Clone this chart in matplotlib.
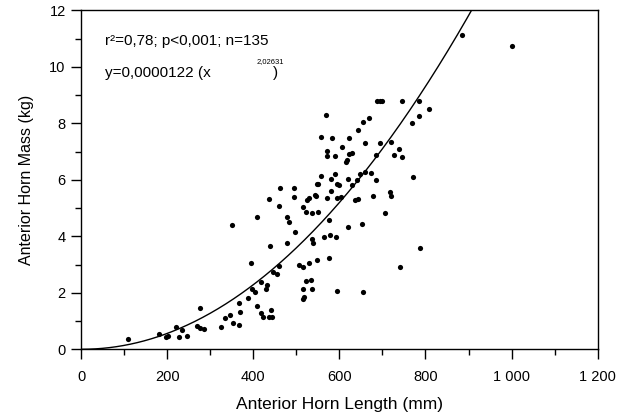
import numpy as np
import matplotlib
matplotlib.use("Agg")
import matplotlib.pyplot as plt
from matplotlib.ticker import MultipleLocator, FixedLocator

plt.rcParams['font.family'] = ['Liberation Sans', 'DejaVu Sans']

horn_length = [108, 180, 197, 201, 220, 228, 235, 247, 269, 276, 286, 276, 324, 334, 346, 354, 368,
               351, 366, 369, 389, 395, 398, 404, 409, 409, 417, 422, 418, 429, 433, 437, 443, 441,
               439, 445, 456, 461, 461, 479, 482, 479, 497, 507, 515, 515, 518, 515, 523, 534, 537,
               530, 547, 536, 539, 516, 523, 536, 551, 577, 564, 578, 592, 619, 652, 707, 576, 595,
               656, 741, 787, 886, 1002, 688, 694, 700, 746, 786, 809, 786, 769, 569, 656, 669, 643,
               557, 584, 622, 660, 695, 719, 572, 607, 571, 591, 622, 630, 615, 617, 685, 728, 738,
               745, 557, 551, 591, 581, 594, 599, 581, 530, 545, 571, 595, 603, 621, 629, 640, 648,
               660, 674, 684, 636, 644, 679, 718, 720, 772, 437, 462, 495, 495, 524, 543, 547]
horn_mass = [0.35, 0.55, 0.42, 0.47, 0.79, 0.45, 0.68, 0.48, 0.81, 0.74, 0.71, 1.48, 0.78, 1.10, 1.21,
             0.92, 0.86, 4.39, 1.63, 1.31, 1.82, 3.04, 2.15, 2.04, 4.69, 1.53, 1.27, 1.15, 2.39, 2.12,
             2.27, 1.13, 1.15, 1.39, 3.67, 2.74, 2.66, 2.95, 5.07, 4.69, 4.52, 3.75, 4.16, 2.98, 2.92,
             2.12, 1.84, 1.78, 2.41, 2.47, 2.13, 3.04, 3.16, 3.89, 3.77, 5.04, 4.86, 4.83, 4.86, 4.59,
             3.98, 4.04, 3.96, 4.33, 4.43, 4.81, 3.24, 2.06, 2.02, 2.92, 3.59, 11.14, 10.75, 8.78,
             8.78, 8.78, 8.78, 8.78, 8.52, 8.28, 8.03, 8.31, 8.04, 8.20, 7.78, 7.51, 7.50, 7.50, 7.30,
             7.29, 7.33, 7.04, 7.16, 6.86, 6.84, 6.90, 6.96, 6.63, 6.71, 6.89, 6.89, 7.08, 6.80, 6.13,
             5.85, 6.22, 6.03, 5.84, 5.83, 5.60, 5.37, 5.43, 5.35, 5.36, 5.39, 6.02, 5.83, 5.98, 6.22,
             6.28, 6.26, 5.98, 5.30, 5.31, 5.42, 5.56, 5.43, 6.09, 5.32, 5.70, 5.39, 5.70, 5.28, 5.45,
             5.87]

coef_a = 0.0000122
coef_b = 2.02631

x_ticks = [0, 200, 400, 600, 800, 1000, 1200]
x_tick_labels = ["0", "200", "400", "600", "800", "1 000", "1 200"]
y_ticks = [0, 2, 4, 6, 8, 10, 12]
y_tick_labels = ["0", "2", "4", "6", "8", "10", "12"]

fig = plt.figure(figsize=(6.27, 4.19), dpi=100)
ax = fig.add_axes([81/627, 1 - 349.3/419, (597.7 - 81)/627, (349.3 - 10.5)/419])

ax.scatter(horn_length, horn_mass, s=14, color='black', linewidths=0, zorder=3, clip_on=False)

xc = np.linspace(0, 1000, 500)
ax.plot(xc, coef_a * xc ** coef_b, color='black', lw=1.0)

ax.set_xlim(0, 1200)
ax.set_ylim(0, 12)
ax.xaxis.set_major_locator(FixedLocator(x_ticks))
ax.set_xticklabels(x_tick_labels)
ax.yaxis.set_major_locator(FixedLocator(y_ticks))
ax.set_yticklabels(y_tick_labels)
ax.xaxis.set_minor_locator(MultipleLocator(100))
ax.yaxis.set_minor_locator(MultipleLocator(1))
ax.tick_params(which='major', direction='out', length=7, width=1, labelsize=10.5)
ax.tick_params(axis='x', which='major', pad=8)
ax.tick_params(axis='y', which='major', pad=4)
ax.tick_params(which='minor', direction='out', length=4, width=1)
for s in ax.spines.values():
    s.set_linewidth(1.0)
    s.set_color('black')

fig.text(339/627, 1 - 404/419, "Anterior Horn Length (mm)", ha='center', va='center', fontsize=12.5)
fig.text(27/627, 1 - 180/419, "Anterior Horn Mass (kg)", ha='center', va='center', fontsize=11.5, rotation=90)

fig.text(105/627, 1 - 41/419, "r²=0,78; p<0,001; n=135", ha='left', va='center', fontsize=11)
fig.text(105/627, 1 - 73/419, "y=0,0000122 (x", ha='left', va='center', fontsize=11)
fig.text(257/627, 1 - 62/419, "2,02631", ha='left', va='center', fontsize=5.5)
fig.text(273/627, 1 - 73/419, ")", ha='left', va='center', fontsize=11)

fig.savefig("out.png", dpi=100)
